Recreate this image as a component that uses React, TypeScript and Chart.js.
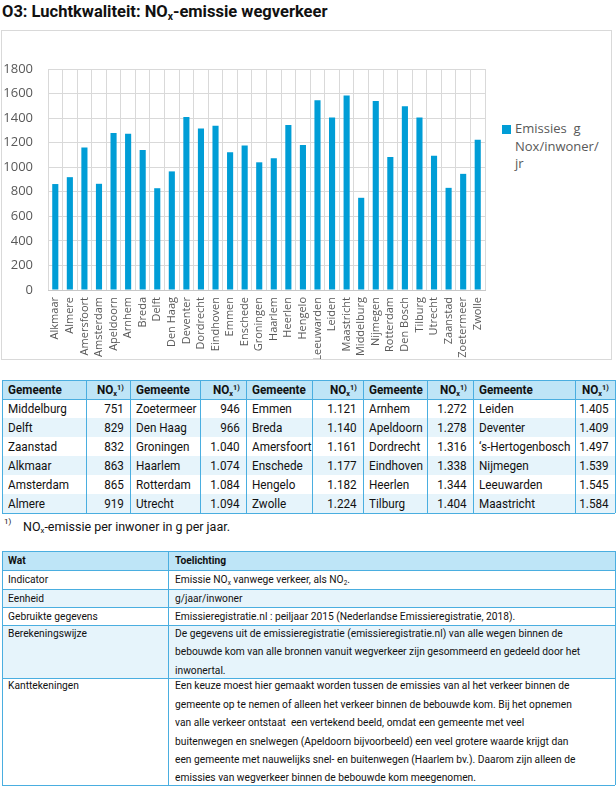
import React, { useEffect, useRef } from "react";
import { Chart, registerables } from "chart.js";

Chart.register(...registerables);

// ---------- data ----------
const cities = [
  "Alkmaar", "Almere", "Amersfoort", "Amsterdam", "Apeldoorn", "Arnhem", "Breda", "Delft",
  "Den Haag", "Deventer", "Dordrecht", "Eindhoven", "Emmen", "Enschede", "Groningen", "Haarlem",
  "Heerlen", "Hengelo", "Leeuwarden", "Leiden", "Maastricht", "Middelburg", "Nijmegen", "Rotterdam",
  "Den Bosch", "Tilburg", "Utrecht", "Zaanstad", "Zoetermeer", "Zwolle",
];
const emissions = [
  863, 919, 1161, 865, 1278, 1272, 1140, 829,
  966, 1409, 1316, 1338, 1121, 1177, 1040, 1074,
  1344, 1182, 1545, 1405, 1584, 751, 1539, 1084,
  1497, 1404, 1094, 832, 946, 1224,
];
const yTicks = [0, 200, 400, 600, 800, 1000, 1200, 1400, 1600, 1800];
const legendLines = ["Emissies  g", "Nox/inwoner/", "jr"];
const tableNames: Record<string, string> = { "Den Bosch": "\u2018s-Hertogenbosch" };
const rankHeader = ["Gemeente", "NO{x}^1)^"];

const title = "O3: Luchtkwaliteit: NO{x}-emissie wegverkeer";
const footnoteMark = "1)";
const footnote = "NO{x}-emissie per inwoner in g per jaar.";

const infoHeader = ["Wat", "Toelichting"];
const infoLabels = ["Indicator", "Eenheid", "Gebruikte gegevens", "Berekeningswijze", "Kanttekeningen"];
const infoText: string[][] = [
  ["Emissie NO{x} vanwege verkeer, als NO{2}."],
  ["g/jaar/inwoner"],
  ["Emissieregistratie.nl : peiljaar 2015 (Nederlandse Emissieregistratie, 2018)."],
  [
    "De gegevens uit de emissieregistratie (emissieregistratie.nl) van alle wegen binnen de",
    "bebouwde kom van alle bronnen vanuit wegverkeer zijn gesommeerd en gedeeld door het",
    "inwonertal.",
  ],
  [
    "Een keuze moest hier gemaakt worden tussen de emissies van al het verkeer binnen de",
    "gemeente op te nemen of alleen het verkeer binnen de bebouwde kom. Bij het opnemen",
    "van alle verkeer ontstaat  een vertekend beeld, omdat een gemeente met veel",
    "buitenwegen en snelwegen (Apeldoorn bijvoorbeeld) een veel grotere waarde krijgt dan",
    "een gemeente met nauwelijks snel- en buitenwegen (Haarlem bv.). Daarom zijn alleen de",
    "emissies van wegverkeer binnen de bebouwde kom meegenomen.",
  ],
];

// ---------- styles ----------
const BAR = "#009DD6";
const GRID = "#D9D9D9";
const AXIS_TXT = "#595959";
const TBL_BORDER = "#4AAEE0";
const TBL_HEAD = "#BEE5F7";
const TBL_ALT = "#E6F4FB";
const SANS = "Roboto, 'Noto Sans', sans-serif";
const CHART_FONT = "'Open Sans', sans-serif";
const RANK_SQUEEZE = 0.9;
const INFO_SQUEEZE = 0.89;

function fmt(n: number): string {
  if (n < 1000) return String(n);
  const r = n % 1000;
  return Math.floor(n / 1000) + "." + String(r).padStart(3, "0");
}

// {x} -> subscript, ^x^ -> superscript
function rich(s: string) {
  const parts = s.split(/(\{.*?\}|\^.*?\^)/);
  return parts.map((p, i) => {
    if (p.startsWith("{") && p.endsWith("}"))
      return (
        <sub key={i} style={{ fontSize: "0.62em", lineHeight: 0, verticalAlign: "-0.25em" }}>
          {p.slice(1, -1)}
        </sub>
      );
    if (p.length > 1 && p.startsWith("^") && p.endsWith("^"))
      return (
        <sup key={i} style={{ fontSize: "0.62em", lineHeight: 0, verticalAlign: "0.55em" }}>
          {p.slice(1, -1)}
        </sup>
      );
    return <React.Fragment key={i}>{p}</React.Fragment>;
  });
}

function BarChart() {
  const ref = useRef<HTMLCanvasElement | null>(null);
  useEffect(() => {
    if (!ref.current) return;
    const chart = new Chart(ref.current, {
      type: "bar",
      data: {
        labels: cities,
        datasets: [
          {
            label: legendLines.join(" "),
            data: emissions,
            backgroundColor: BAR,
            barPercentage: 0.42,
            categoryPercentage: 1,
          },
        ],
      },
      options: {
        responsive: false,
        animation: false,
        layout: { padding: { top: 38, right: 4, left: 0, bottom: 0 } },
        plugins: { legend: { display: false }, tooltip: { enabled: false } },
        scales: {
          x: {
            grid: { color: GRID, drawTicks: false, offset: true },
            border: { color: "#C8C8C8" },
            ticks: {
              color: AXIS_TXT,
              font: { family: CHART_FONT, size: 11 },
              minRotation: 90,
              maxRotation: 90,
              autoSkip: false,
              padding: 7,
            },
            afterFit: (s: any) => {
              s.height = 69;
            },
          },
          y: {
            min: yTicks[0],
            max: yTicks[yTicks.length - 1],
            ticks: {
              stepSize: yTicks[1] - yTicks[0],
              color: AXIS_TXT,
              font: { family: CHART_FONT, size: 13 },
              padding: 15,
              callback: (v: any) => String(v),
            },
            grid: { color: GRID, drawTicks: false },
            border: { display: false },
            afterFit: (s: any) => {
              s.width = 46;
            },
          },
        },
      },
    });
    return () => chart.destroy();
  }, []);
  return (
    <canvas
      ref={ref}
      width={496}
      height={328}
      style={{ position: "absolute", left: 2, top: 31, width: 496, height: 328 }}
    />
  );
}

const abs = (l: number, t: number, w: number, h: number): React.CSSProperties => ({
  position: "absolute",
  left: l,
  top: t,
  width: w,
  height: h,
  boxSizing: "border-box",
});

function RankTable() {
  const idx = cities.map((_, i) => i).sort((a, b) => emissions[a] - emissions[b]);
  const groups = 5;
  const perGroup = Math.ceil(idx.length / groups);
  const xs = [2, 86, 130, 200, 246, 312, 363, 427, 473, 575, 615];
  const top = 380;
  const headH = 19;
  const rowH = 19;
  const rowsY = [top, top + headH];
  for (let r = 0; r < perGroup; r++) rowsY.push(top + headH + (r + 1) * rowH);
  const bottom = rowsY[rowsY.length - 1];
  const els: React.ReactNode[] = [];
  els.push(<div key="hbg" style={{ ...abs(xs[0], top, xs[10] - xs[0], headH), background: TBL_HEAD }} />);
  for (let r = 0; r < perGroup; r++) {
    if (r % 2 === 1)
      els.push(
        <div key={"bg" + r} style={{ ...abs(xs[0], rowsY[r + 1], xs[10] - xs[0], rowH), background: TBL_ALT }} />
      );
  }
  const txt = (key: string, c: number, y: number, h: number, content: React.ReactNode, right: boolean, bold = false) => (
    <div
      key={key}
      style={{
        ...abs(xs[c], y, xs[c + 1] - xs[c], h),
        padding: "0 6px",
        display: "flex",
        alignItems: "center",
        justifyContent: right ? "flex-end" : "flex-start",
        whiteSpace: "nowrap",
        fontWeight: bold ? "bold" : "normal",
      }}
    >
      <span
        style={{
          display: "inline-block",
          transform: `scaleX(${RANK_SQUEEZE})`,
          transformOrigin: right ? "right center" : "left center",
        }}
      >
        {content}
      </span>
    </div>
  );
  for (let g = 0; g < groups; g++) {
    els.push(txt("h" + g + "a", g * 2, top, headH, rich(rankHeader[0]), false, true));
    els.push(txt("h" + g + "b", g * 2 + 1, top, headH, rich(rankHeader[1]), true, true));
    for (let r = 0; r < perGroup; r++) {
      const ci = idx[g * perGroup + r];
      if (ci === undefined) continue;
      els.push(txt(`c${g}-${r}a`, g * 2, rowsY[r + 1], rowH, tableNames[cities[ci]] ?? cities[ci], false));
      els.push(txt(`c${g}-${r}b`, g * 2 + 1, rowsY[r + 1], rowH, fmt(emissions[ci]), true));
    }
  }
  xs.forEach((x, i) =>
    els.push(<div key={"v" + i} style={{ ...abs(x - 0.5, top, 1, bottom - top), background: TBL_BORDER }} />)
  );
  [top, top + headH, bottom].forEach((y, i) =>
    els.push(<div key={"hl" + i} style={{ ...abs(xs[0], y - 0.5, xs[10] - xs[0], 1), background: TBL_BORDER }} />)
  );
  return (
    <div style={{ position: "absolute", left: 0, top: 0, fontFamily: SANS, fontSize: 13, color: "#111" }}>
      {els}
    </div>
  );
}

function InfoTable() {
  const xs = [2, 168, 615];
  const ys = [551, 570, 589, 607, 625, 678, 785];
  const lineH = 18.4;
  const els: React.ReactNode[] = [];
  for (let r = 0; r < ys.length - 1; r++) {
    const bg = r === 0 ? TBL_HEAD : r % 2 === 0 ? TBL_ALT : "#fff";
    els.push(<div key={"bg" + r} style={{ ...abs(xs[0], ys[r], xs[2] - xs[0], ys[r + 1] - ys[r]), background: bg }} />);
  }
  const squeeze: React.CSSProperties = {
    transform: `scaleX(${INFO_SQUEEZE})`,
    transformOrigin: "left top",
  };
  for (let r = 0; r < ys.length - 1; r++) {
    const h = ys[r + 1] - ys[r];
    const left = r === 0 ? rich(infoHeader[0]) : rich(infoLabels[r - 1]);
    const right = r === 0 ? [infoHeader[1]] : infoText[r - 1];
    const blockH = right.length * lineH;
    const startY = ys[r] + (h - blockH) / 2;
    els.push(
      <div
        key={"l" + r}
        style={{
          position: "absolute",
          left: xs[0] + 6,
          top: startY,
          lineHeight: lineH + "px",
          whiteSpace: "nowrap",
          fontWeight: r === 0 ? "bold" : "normal",
          ...squeeze,
        }}
      >
        {left}
      </div>
    );
    els.push(
      <div
        key={"r" + r}
        style={{
          position: "absolute",
          left: xs[1] + 7,
          top: startY,
          lineHeight: lineH + "px",
          whiteSpace: "pre",
          fontWeight: r === 0 ? "bold" : "normal",
          ...squeeze,
        }}
      >
        {right.map((ln, k) => (
          <div key={k}>{rich(ln)}</div>
        ))}
      </div>
    );
  }
  xs.forEach((x, i) =>
    els.push(<div key={"v" + i} style={{ ...abs(x - 0.5, ys[0], 1, ys[ys.length - 1] - ys[0]), background: TBL_BORDER }} />)
  );
  ys.forEach((y, i) =>
    els.push(<div key={"h" + i} style={{ ...abs(xs[0], y - 0.5, xs[2] - xs[0], 1), background: TBL_BORDER }} />)
  );
  return (
    <div style={{ position: "absolute", left: 0, top: 0, fontFamily: SANS, fontSize: 11.5, color: "#111" }}>
      {els}
    </div>
  );
}

export default function App() {
  return (
    <div
      style={{
        position: "absolute",
        left: 0,
        top: 0,
        width: 616,
        height: 786,
        background: "#fff",
        overflow: "hidden",
        fontFamily: SANS,
      }}
    >
      <div
        style={{
          position: "absolute",
          left: 2,
          top: 2,
          fontSize: 16.5,
          fontWeight: "bold",
          color: "#111",
          whiteSpace: "nowrap",
          lineHeight: "20px",
        }}
      >
        {rich(title)}
      </div>
      <div
        style={{
          position: "absolute",
          left: 1,
          top: 30,
          width: 611,
          height: 330,
          boxSizing: "border-box",
          border: `1px solid ${GRID}`,
        }}
      />
      <BarChart />
      <div style={{ position: "absolute", left: 502, top: 125, width: 9, height: 9, background: BAR }} />
      <div
        style={{
          position: "absolute",
          left: 515,
          top: 120,
          fontFamily: CHART_FONT,
          fontSize: 13,
          lineHeight: "17.5px",
          color: AXIS_TXT,
          whiteSpace: "pre",
        }}
      >
        {legendLines.map((l, i) => (
          <div key={i}>{l}</div>
        ))}
      </div>
      <RankTable />
      <div style={{ position: "absolute", left: 4, top: 517, fontSize: 8, color: "#111" }}>{footnoteMark}</div>
      <div
        style={{
          position: "absolute",
          left: 23,
          top: 519,
          fontSize: 12.5,
          color: "#111",
          whiteSpace: "nowrap",
        }}
      >
        {rich(footnote)}
      </div>
      <InfoTable />
    </div>
  );
}
